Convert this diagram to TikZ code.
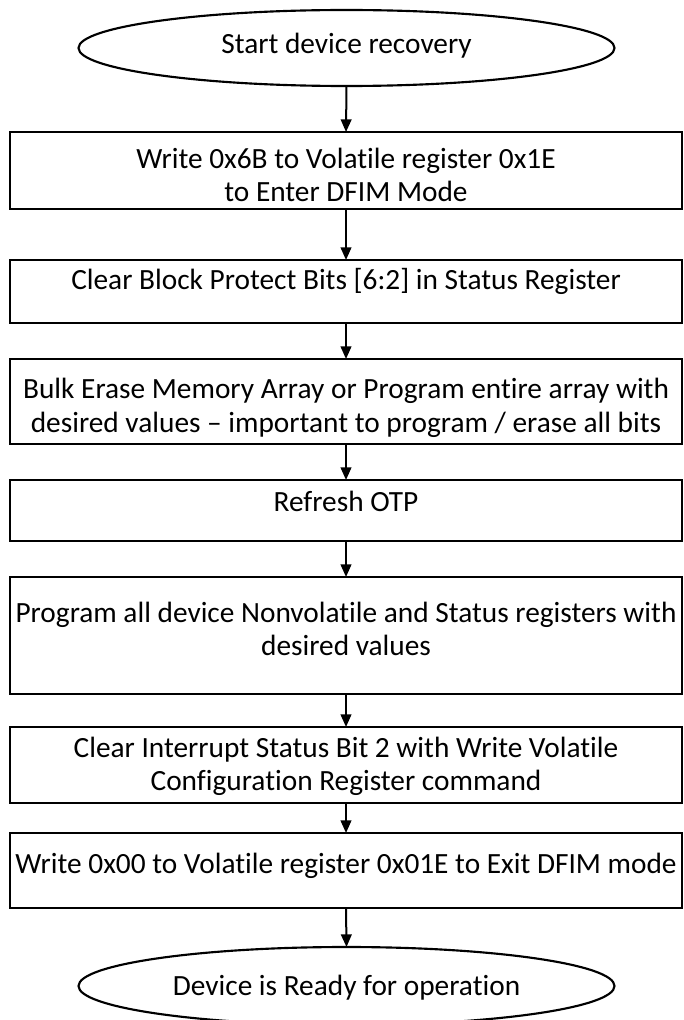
\documentclass[tikz,border=0pt]{standalone}
\usepackage{fontspec}
\setmainfont{Carlito}[Ligatures=NoCommon]
\usetikzlibrary{shapes.geometric,arrows.meta}

\begin{document}
\begin{tikzpicture}
    [x=0.75pt,y=-0.75pt,>={Triangle[width=8pt,length=9.5pt]},
     every node/.style={inner sep=0pt, outer sep=0pt, font=\fontsize{22}{25}\selectfont},
     term/.style={draw, line width=1.6pt, ellipse, minimum width=402pt, minimum height=57pt},
     stepbox/.style={draw, line width=1.6pt, rectangle, minimum width=504pt},
     txt/.style={align=center}]
  \useasboundingbox (0,0) rectangle (683,1020);

  \node[term] (start) at (346.5,48) {};
  \node[stepbox, minimum height=57.75pt] (b1) at (346,170.5) {};
  \node[stepbox, minimum height=47.25pt] (b2) at (346,291.5) {};
  \node[stepbox, minimum height=63.75pt] (b3) at (346,401.5) {};
  \node[stepbox, minimum height=45.75pt] (b4) at (346,510.5) {};
  \node[stepbox, minimum height=87.75pt] (b5) at (346,635.5) {};
  \node[stepbox, minimum height=57pt] (b6) at (346,765) {};
  \node[stepbox, minimum height=56.25pt] (b7) at (346,870.5) {};
  \node[term, minimum height=58.5pt] (stop) at (346.5,986) {};

  \node[txt] (t0) at (346.5,46) {Start device recovery};
  \node[txt] (t1) at (346,175) {Write 0x6B to Volatile register 0x1E\\to Enter DFIM Mode};
  \node[txt] (t2) at (346,281) {Clear Block Protect Bits [6:2] in Status Register};
  \node[txt] (t3) at (346,408) {Bulk Erase Memory Array or Program entire array with\\desired values -- important to program / erase all bits};
  \node[txt] (t4) at (346,501) {Refresh OTP};
  \node[txt] (t5) at (346,629) {Program all device Nonvolatile and Status registers with\\desired values};
  \node[txt] (t6) at (346,766) {Clear Interrupt Status Bit 2 with Write Volatile\\Configuration Register command};
  \node[txt] (t7) at (346,866) {Write 0x00 to Volatile register 0x01E to Exit DFIM mode};
  \node[txt] (t8) at (346.5,988) {Device is Ready for operation};

  \foreach \from/\to in {start/b1, b1/b2, b2/b3, b3/b4, b4/b5, b5/b6, b6/b7, b7/stop}
    \draw[->, line width=1.5pt] (\from.south) -- (\to.north);
\end{tikzpicture}
\end{document}
